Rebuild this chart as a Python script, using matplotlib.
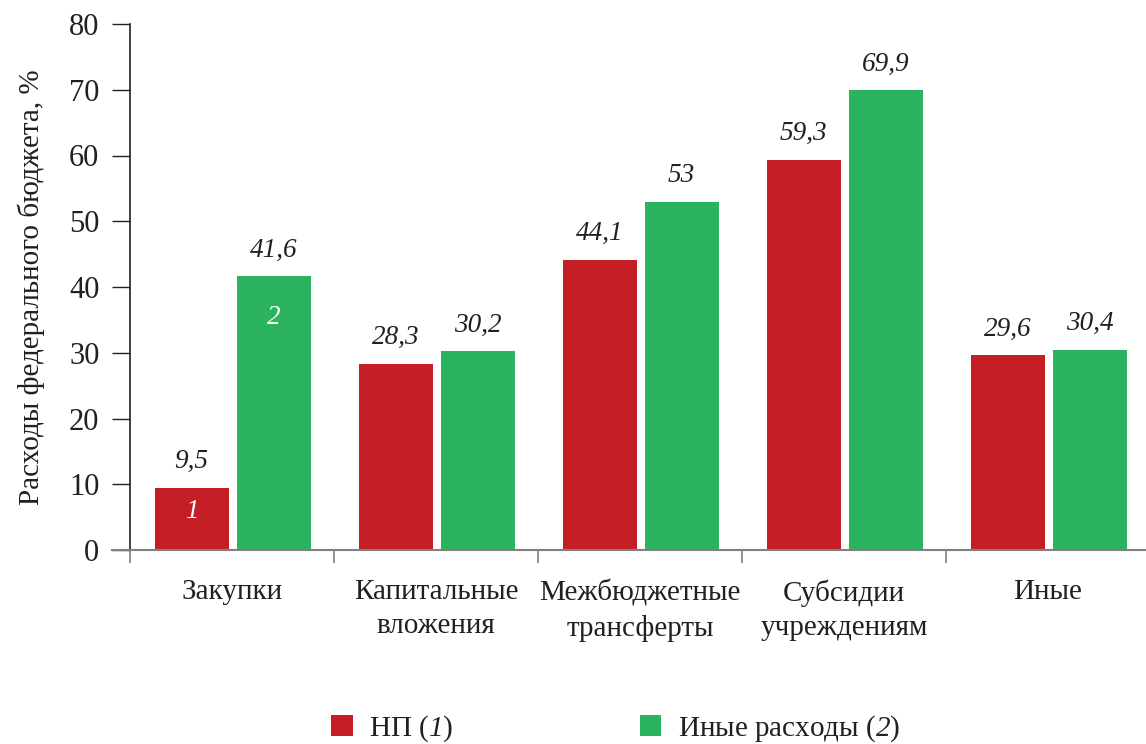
import matplotlib
matplotlib.use('Agg')
import matplotlib.pyplot as plt
import numpy as np

categories = ['Закупки', 'Капитальные\nвложения', 'Межбюджетные\nтрансферты',
              'Субсидии\nучреждениям', 'Иные']
np_values = [9.5, 28.3, 44.1, 59.3, 29.6]
other_values = [41.6, 30.2, 53, 69.9, 30.4]
np_labels = ['9,5', '28,3', '44,1', '59,3', '29,6']
other_labels = ['41,6', '30,2', '53', '69,9', '30,4']
yticks = [0, 10, 20, 30, 40, 50, 60, 70, 80]

plt.rcParams['font.family'] = ['Liberation Serif', 'DejaVu Serif']
plt.rcParams['mathtext.fontset'] = 'custom'
plt.rcParams['mathtext.rm'] = 'Liberation Serif'
# digits in \mathit fall back to upright, so the italic face goes on \mathsf
plt.rcParams['mathtext.sf'] = 'Liberation Serif:italic'

txt = '#231f20'
red = '#c41f26'
green = '#2bb35f'

fig = plt.figure(figsize=(11.46, 7.44), dpi=100)
ax = fig.add_axes([130/1146, 1-550/744, 1020/1146, 526/744])

x = np.arange(len(categories))
w = 0.363
b1 = ax.bar(x - 0.198, np_values, w, color=red, label='НП ($\\mathsf{1}$)')
b2 = ax.bar(x + 0.204, other_values, w, color=green, label='Иные расходы ($\\mathsf{2}$)')

for rect, lab in zip(b1, np_labels):
    ax.annotate(lab, (rect.get_x() + rect.get_width()/2, rect.get_height()),
                xytext=(0, 10), textcoords='offset points', ha='center', va='bottom',
                fontsize=19.5, style='italic', color=txt)
for rect, lab in zip(b2, other_labels):
    ax.annotate(lab, (rect.get_x() + rect.get_width()/2, rect.get_height()),
                xytext=(0, 10), textcoords='offset points', ha='center', va='bottom',
                fontsize=19.5, style='italic', color=txt)

# series numbers inside the first pair of bars
ax.text(x[0] - 0.198, 5.8, '1', ha='center', va='center', color='white',
        fontsize=19.5, style='italic')
ax.text(x[0] + 0.204, 35.3, '2', ha='center', va='center', color='white',
        fontsize=19.5, style='italic')

ax.set_xlim(-0.5, 4.5)
ax.set_ylim(0, 80)
ax.set_yticks(yticks)
ax.tick_params(axis='y', length=13, width=1, color=txt, pad=9, labelsize=22, labelcolor=txt)

ax.set_xticks(x)
ax.set_xticklabels(categories, fontsize=21, color=txt, linespacing=1.4)
ax.tick_params(axis='x', which='major', length=0, pad=21)
ax.set_xticks(np.arange(-0.5, 4.5, 1), minor=True)
ax.tick_params(axis='x', which='minor', length=9.5, width=1.2, color='#808080')

for s in ['top', 'right', 'bottom']:
    ax.spines[s].set_visible(False)
ax.spines['left'].set_color(txt)
ax.spines['left'].set_linewidth(1.2)
ax.plot([-18/1020, 1], [0, 0], transform=ax.transAxes, color='#808080', lw=1.5,
        clip_on=False, zorder=3)

ax.set_ylabel('Расходы федерального бюджета, %', fontsize=21, color=txt, labelpad=17)

fig.legend(handles=[b1, b2], loc='center', bbox_to_anchor=(0.537, 0.021), ncol=2,
           frameon=False, fontsize=21, handlelength=0.75, handleheight=0.75,
           handletextpad=0.55, columnspacing=6.4, labelcolor=txt)

fig.savefig('out.png', dpi=100)
